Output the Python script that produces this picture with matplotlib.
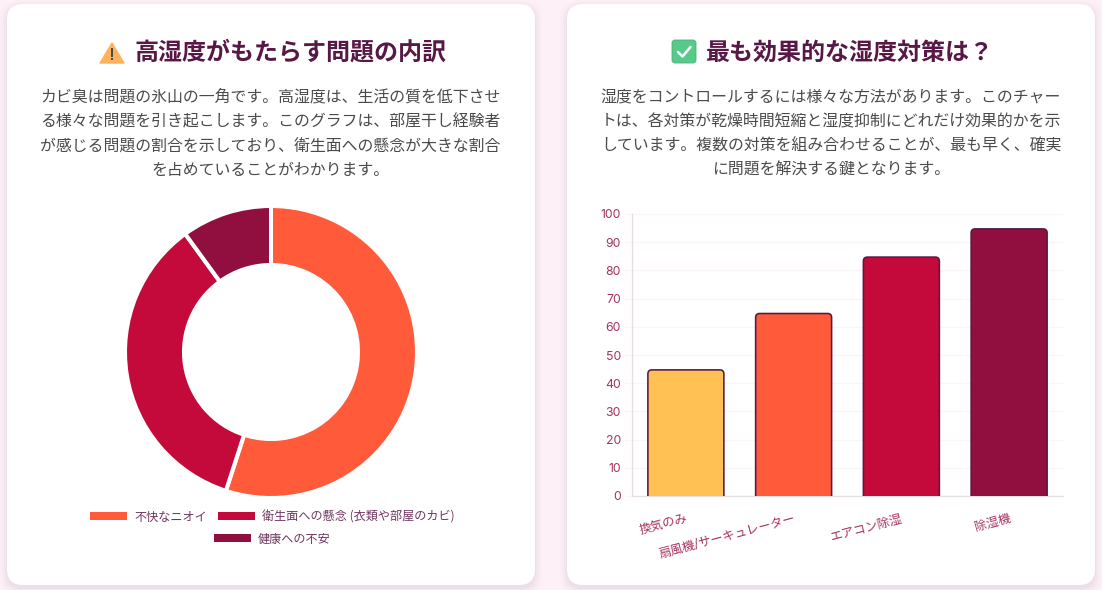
import matplotlib
matplotlib.use("Agg")
import matplotlib.pyplot as plt
from matplotlib.patches import FancyBboxPatch, Polygon, Rectangle

plt.rcParams['font.family'] = ['Noto Sans CJK JP', 'DejaVu Sans']

W, H = 1102, 590

# donut data
donut_labels = ['不快なニオイ', '衛生面への懸念 (衣類や部屋のカビ)', '健康への不安']
donut_values = [55, 35, 10]
donut_colors = ['#FF5A3A', '#C40A3A', '#900F3F']

# bar data
bar_labels = ['換気のみ', '扇風機/サーキュレーター', 'エアコン除湿', '除湿機']
bar_values = [45, 65, 85, 95]
bar_colors = ['#FFC154', '#FF5A3A', '#C40A3A', '#900F3F']
y_ticks = [0, 10, 20, 30, 40, 50, 60, 70, 80, 90, 100]

# text
left_title = '高湿度がもたらす問題の内訳'
right_title = '最も効果的な湿度対策は？'
left_lines = ['カビ臭は問題の氷山の一角です。高湿度は、生活の質を低下させ',
              'る様々な問題を引き起こします。このグラフは、部屋干し経験者',
              'が感じる問題の割合を示しており、衛生面への懸念が大きな割合',
              'を占めていることがわかります。']
right_lines = ['湿度をコントロールするには様々な方法があります。このチャー',
               'トは、各対策が乾燥時間短縮と湿度抑制にどれだけ効果的かを示',
               'しています。複数の対策を組み合わせることが、最も早く、確実',
               'に問題を解決する鍵となります。']

DARK = '#581845'
BODY = '#4A4A4A'
TICK = '#A5325F'


def px_axes(fig, x0, y0, x1, y1):
    # axes box given in image pixels, y going down
    return fig.add_axes([x0 / W, 1 - y1 / H, (x1 - x0) / W, (y1 - y0) / H])


fig = plt.figure(figsize=(W / 100, H / 100), dpi=100, facecolor='#FDF1F7')

# background layer in pixel coordinates
bg = fig.add_axes([0, 0, 1, 1])
bg.set_xlim(0, W)
bg.set_ylim(H, 0)
bg.axis('off')

for card_x in [7, 567]:
    # soft shadow
    for grow, alpha in [(7, 0.010), (5, 0.015), (3, 0.020), (1, 0.030)]:
        bg.add_patch(FancyBboxPatch((card_x - grow, 4 - grow + 3), 528 + 2 * grow, 581 + 2 * grow,
                                    boxstyle='round,pad=0,rounding_size=18',
                                    fc='#581845', ec='none', alpha=alpha))
    bg.add_patch(FancyBboxPatch((card_x, 4), 528, 581, boxstyle='round,pad=0,rounding_size=16',
                                fc='white', ec='none'))

# titles
bg.text(134, 52.5, left_title, fontsize=17.3, fontweight='bold', color=DARK, ha='left', va='center')
bg.text(706, 52.5, right_title, fontsize=17.3, fontweight='bold', color=DARK, ha='left', va='center')

# warning icon
bg.add_patch(Polygon([(112, 43), (124, 63), (100, 63)], closed=True, fc='#FFB25E', ec='#FFB25E',
                     lw=1, joinstyle='round'))
bg.add_patch(Rectangle((110.9, 48), 2.2, 8.5, fc='#4A4A4A', ec='none'))
bg.add_patch(Rectangle((110.9, 58), 2.2, 2.4, fc='#4A4A4A', ec='none'))

# check icon
bg.add_patch(FancyBboxPatch((672, 40), 24, 23, boxstyle='round,pad=0,rounding_size=3',
                            fc='#57C98B', ec='#45B279', lw=0.6))
bg.plot([678, 682.5, 690.5], [52, 56.5, 47], color='white', lw=1.8, solid_capstyle='round')

# paragraphs
for line_y, left, right in zip([97.5, 121.5, 146, 170], left_lines, right_lines):
    bg.text(270.5, line_y, left, fontsize=11.45, color=BODY, ha='center', va='center')
    bg.text(831, line_y, right, fontsize=11.45, color=BODY, ha='center', va='center')

# donut
ax1 = px_axes(fig, 125, 206, 417, 498)
ax1.pie(donut_values, colors=donut_colors, startangle=90, counterclock=False, radius=1,
        wedgeprops={'width': 0.404, 'edgecolor': 'white', 'linewidth': 2.9})
ax1.set_xlim(-1, 1)
ax1.set_ylim(-1, 1)

# legend rows are centred like the original, so placed by hand
legend_pos = [(90, 516, 134.5), (218, 516, 262.5), (214, 538, 257.5)]
for (sx, sy, tx), name, col in zip(legend_pos, donut_labels, donut_colors):
    bg.add_patch(Rectangle((sx, sy - 4), 37, 8, fc=col, ec='none'))
    bg.text(tx, sy + 1, name, fontsize=8.7, color='#6F3560', ha='left', va='center')

# bars
ax2 = px_axes(fig, 632, 214, 1063, 496)
ax2.patch.set_alpha(0)
x_pos = list(range(len(bar_values)))
bars = ax2.bar(x_pos, bar_values, width=0.72, color=bar_colors)
ax2.set_xlim(-0.5, 3.5)
ax2.set_ylim(0, 100)

# swap the plain bars for ones with rounded tops, border sits inside the bar
x_px = 431 / 4
y_px = 282 / 100
inset = 0.8
for rect, col in zip(bars, bar_colors):
    rect.set_visible(False)
    ax2.add_patch(FancyBboxPatch((rect.get_x() + inset / x_px, -5),
                                 rect.get_width() - 2 * inset / x_px,
                                 rect.get_height() + 5 - inset / y_px,
                                 boxstyle='round,pad=0,rounding_size=%f' % (4 / x_px),
                                 mutation_aspect=x_px / y_px, fc=col, ec=DARK, lw=1.15, zorder=3))

ax2.set_yticks(y_ticks)
ax2.set_yticklabels([str(v) for v in y_ticks], family=['Inter', 'Noto Sans CJK JP'], fontsize=8.8, color=TICK)
ax2.set_xticks(x_pos)
ax2.set_xticklabels(bar_labels, rotation=15, ha='right', va='top', rotation_mode='anchor',
                    family=['Inter', 'Noto Sans CJK JP'], fontsize=8.9, color=TICK)
ax2.grid(axis='y', color='#FDF4F9', lw=1, zorder=0)
ax2.set_axisbelow(True)
ax2.tick_params(axis='y', length=5, width=0.8, color='#FDF4F9', pad=3)
ax2.tick_params(axis='x', length=0, pad=12)
for side in ['top', 'right']:
    ax2.spines[side].set_visible(False)
for side in ['left', 'bottom']:
    ax2.spines[side].set_color('#E6DCE3')
    ax2.spines[side].set_linewidth(0.9)

plt.savefig('out.png', dpi=100)
plt.close()
